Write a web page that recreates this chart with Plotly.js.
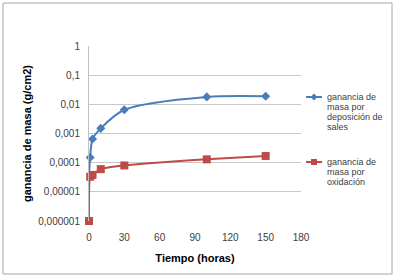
<!DOCTYPE html>
<html><head><meta charset="utf-8">
<script src="https://cdn.plot.ly/plotly-3.0.1.min.js"></script>
<style>html,body{margin:0;padding:0;background:#fff}#c{width:396px;height:278px}</style>
</head><body><div id="c"></div>
<script>
const xSales = [0, 1, 3, 10, 30, 100, 150];
const ySales = [0.00004, 0.00015, 0.00065, 0.0015, 0.0065, 0.018, 0.019];
const xOx = [0, 1, 3, 10, 30, 100, 150];
const yOx = [0.000001, 0.000033, 0.000038, 0.00006, 0.00008, 0.00013, 0.00017];
const nameSales = ["ganancia de", "masa por", "deposición de", "sales"];
const nameOx = ["ganancia de", "masa por", "oxidación"];
const xTicks = [0, 30, 60, 90, 120, 150, 180];
const yTickVals = [0.000001, 0.00001, 0.0001, 0.001, 0.01, 0.1, 1];
const yTickText = ["0,000001", "0,00001", "0,0001", "0,001", "0,01", "0,1", "1"];

const blue = "#4A7EBB", red = "#BE4B48";
const L = 89, R = 301, T = 46, B = 221, W = 396, H = 278;
const px = v => (v - L) / (R - L);
const py = v => (B - v) / (B - T);

const traces = [
  {x: xSales, y: ySales, mode: "lines", type: "scatter", cliponaxis: false,
   line: {color: blue, width: 2, shape: "spline", smoothing: 0.8}, showlegend: false},
  {x: xSales.slice(1), y: ySales.slice(1), mode: "markers", type: "scatter", cliponaxis: false,
   marker: {symbol: "diamond", size: 7, color: blue, line: {width: 0}}, showlegend: false},
  {x: xOx, y: yOx, mode: "lines+markers", type: "scatter", cliponaxis: false,
   line: {color: red, width: 2, shape: "spline", smoothing: 0.6},
   marker: {symbol: "square", size: 8, color: red, line: {width: 0}}, showlegend: false}
];

const font = {family: "Liberation Sans, Arial, sans-serif", color: "#404040"};
const annotations = [];
const shapes = [
  {type: "rect", xref: "paper", yref: "paper", x0: px(3), x1: px(392), y0: py(274), y1: py(3),
   line: {color: "#a6a6a6", width: 1}, fillcolor: "rgba(0,0,0,0)"}
];
function legendEntry(lines, y0, color, sym) {
  shapes.push({type: "line", xref: "paper", yref: "paper", x0: px(306), x1: px(322), y0: py(y0), y1: py(y0),
    line: {color: color, width: 2}});
  if (sym === "square") {
    shapes.push({type: "rect", xref: "paper", yref: "paper", x0: px(311), x1: px(317), y0: py(y0 + 3), y1: py(y0 - 3),
      line: {width: 0}, fillcolor: color});
  } else {
    shapes.push({type: "path", xref: "paper", yref: "paper",
      path: `M ${px(314)} ${py(y0 - 3.5)} L ${px(317.5)} ${py(y0)} L ${px(314)} ${py(y0 + 3.5)} L ${px(310.5)} ${py(y0)} Z`,
      line: {width: 0}, fillcolor: color});
  }
  lines.forEach((t, i) => {
    annotations.push({text: t, xref: "paper", yref: "paper", x: px(325), y: py(y0 + i * 10),
      xanchor: "left", yanchor: "middle", showarrow: false,
      font: {family: font.family, size: 9, color: "#404040"}});
  });
}
legendEntry(nameSales, 97, blue, "diamond");
legendEntry(nameOx, 162, red, "square");

const layout = {
  width: W, height: H,
  margin: {l: L, r: W - R, t: T, b: H - B},
  paper_bgcolor: "#fff", plot_bgcolor: "#fff",
  font: font,
  xaxis: {range: [0, 180], tickvals: xTicks, ticktext: xTicks.map(String), showgrid: false, zeroline: false,
    showline: false, ticks: "", tickfont: {size: 10, color: "#404040"}, ticklabelstandoff: 9,
    title: {text: "<b>Tiempo (horas)</b>", font: {size: 11, color: "#000"}, standoff: 12}},
  yaxis: {type: "log", range: [-6, 0], tickvals: yTickVals, ticktext: yTickText,
    showgrid: true, gridcolor: "#c8c8c8", gridwidth: 1, zeroline: false,
    showline: true, linecolor: "#bfbfbf", linewidth: 1, ticks: "", tickfont: {size: 10, color: "#404040"},
    ticklabelstandoff: 6,
    title: {text: "<b>ganancia de masa (g/cm2)</b>", font: {size: 11, color: "#000"}, standoff: 4}},
  shapes: shapes,
  annotations: annotations,
  showlegend: false
};
Plotly.newPlot("c", traces, layout, {displayModeBar: false, staticPlot: true});
</script>
</body></html>
